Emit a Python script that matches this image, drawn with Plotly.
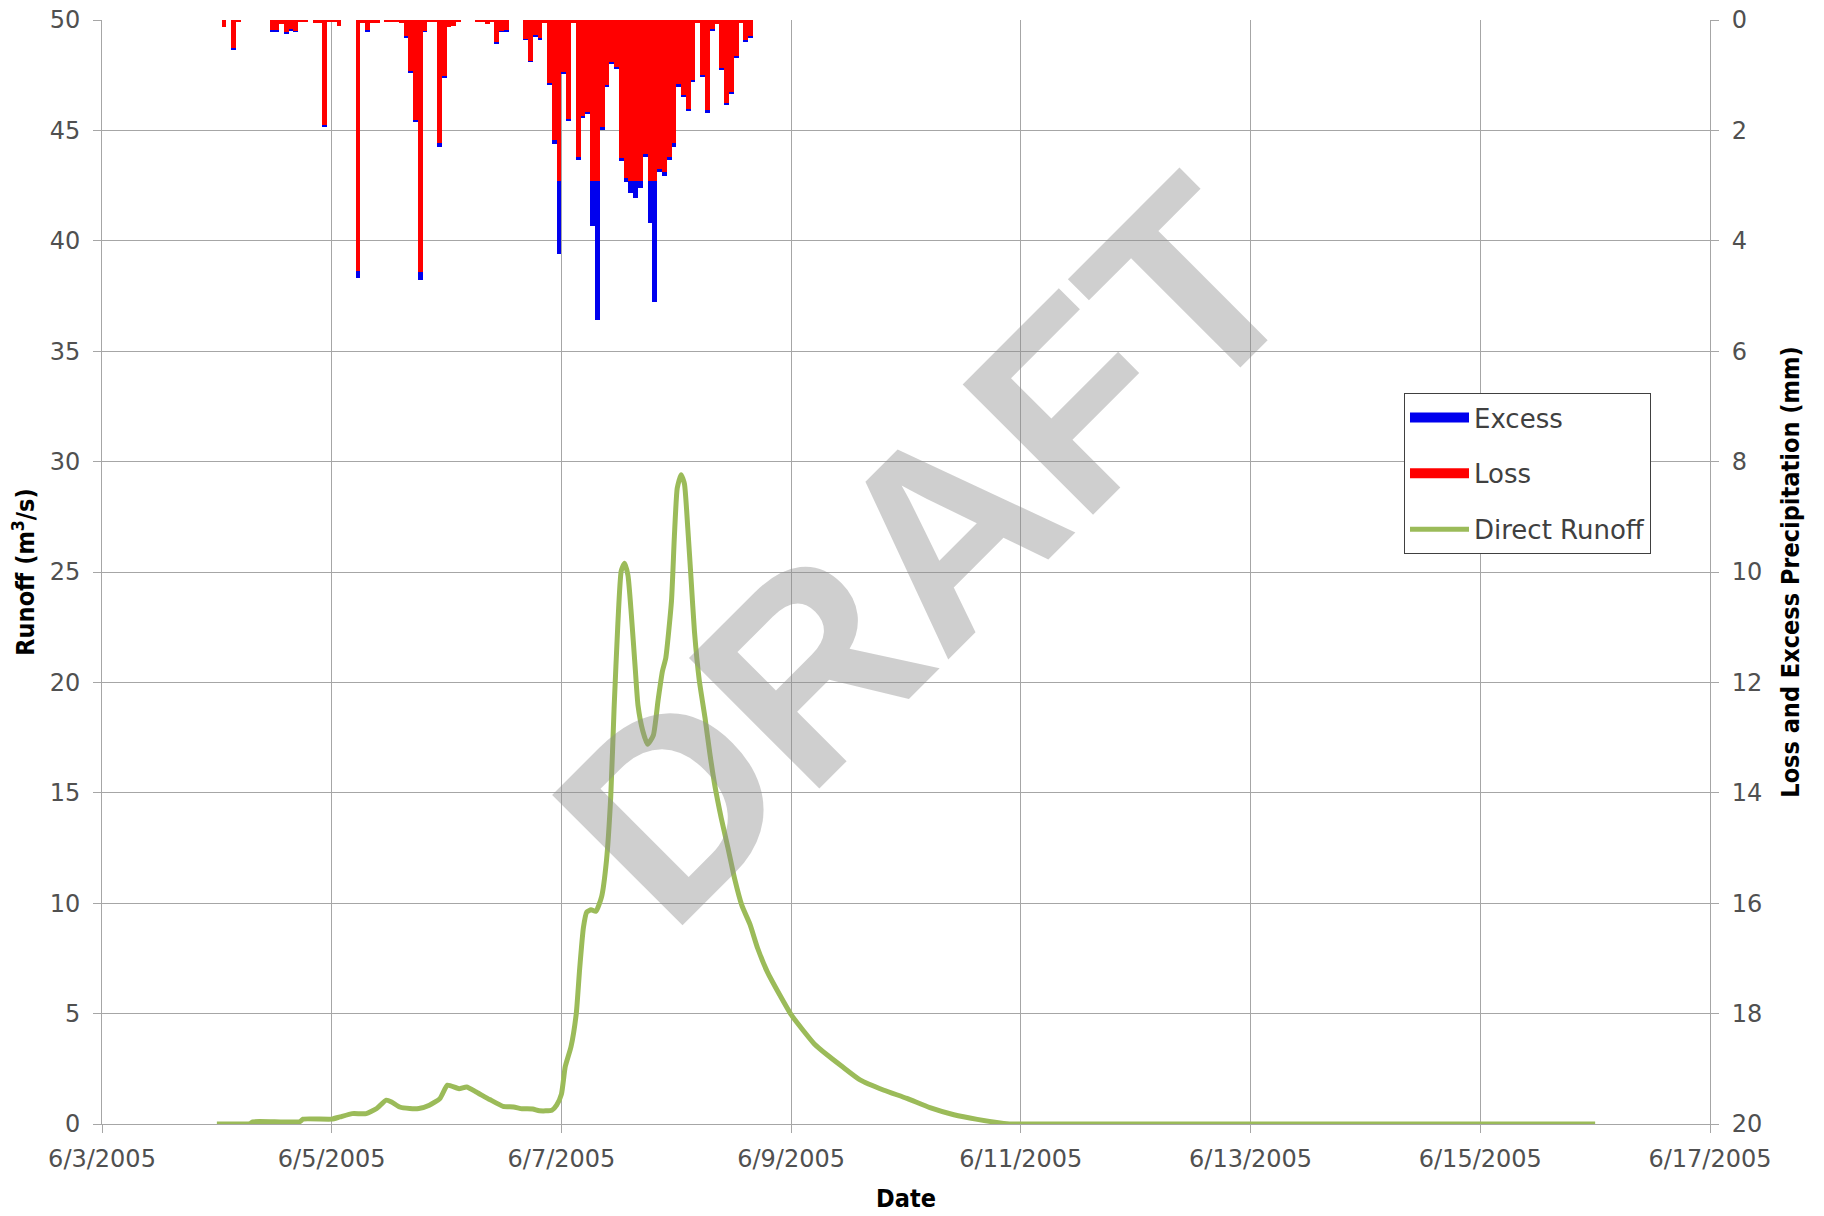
import pandas as pd
import plotly.graph_objects as go

# ---------------- data ----------------
start = pd.Timestamp("2005-06-04 00:00")

# hourly precipitation bars (hour index from 6/4/2005 00:00), mm
bar_hour = [1, 3, 4, 11, 12, 13, 14, 15, 16, 17, 18, 20, 21, 22, 23, 24, 25,
            29, 30, 31, 32, 33, 35, 36, 37, 38, 39, 40, 41, 42, 43, 44, 45, 46,
            47, 48, 49, 50, 54, 55, 56, 57, 58, 59, 60, 64, 65, 66, 67, 68, 69,
            70, 71, 72, 73, 74, 75, 76, 77, 78, 79, 80, 81, 82, 83, 84, 85, 86,
            87, 88, 89, 90, 91, 92, 93, 94, 95, 96, 97, 98, 99, 100, 101, 102,
            103, 104, 105, 106, 107, 108, 109, 110, 111]
bar_loss = [0.12, 0.515, 0.03, 0.185, 0.185, 0.08, 0.23, 0.18, 0.20, 0.03, 0.03,
            0.06, 0.06, 1.905, 0.03, 0.02, 0.10,
            4.55, 0.05, 0.185, 0.05, 0.05, 0.03, 0.03, 0.03, 0.06, 0.305, 0.93,
            1.815, 4.57, 0.20, 0.03, 0.03, 2.235,
            1.02, 0.135, 0.10, 0.03, 0.03, 0.04, 0.07, 0.04, 0.415, 0.205, 0.19,
            0.345, 0.745, 0.28, 0.34, 0.06, 1.155,
            2.175, 2.92, 0.95, 1.79, 0.06, 2.475, 1.74, 1.66, 2.915, 2.92, 1.935,
            1.19, 0.77, 0.86, 2.50, 2.87, 2.92,
            2.91, 2.91, 2.425, 2.915, 2.92, 2.70, 2.76, 2.475, 2.235, 1.175,
            1.365, 1.605, 1.10, 0.06, 1.00, 1.645,
            0.18, 0.08, 0.88, 1.51, 1.315, 0.665, 0.06, 0.37, 0.305]
bar_excess = [0, 0.015, 0, 0.015, 0.015, 0, 0.015, 0.01, 0.015, 0, 0,
              0, 0, 0.035, 0, 0, 0,
              0.13, 0, 0.015, 0, 0, 0, 0, 0, 0, 0.015, 0.02,
              0.03, 0.14, 0.015, 0, 0, 0.065,
              0.02, 0, 0, 0, 0, 0, 0, 0, 0.015, 0.01, 0.01,
              0.01, 0.015, 0.01, 0.015, 0, 0.025,
              0.065, 1.32, 0.02, 0.04, 0, 0.065, 0.03, 0.05, 0.82, 2.52, 0.065,
              0.02, 0.02, 0.02, 0.06, 0.06, 0.21,
              0.31, 0.14, 0.065, 0.755, 2.19, 0.06, 0.06, 0.065, 0.065, 0.035,
              0.035, 0.04, 0.02, 0, 0.02, 0.035,
              0.015, 0, 0.02, 0.035, 0.025, 0.02, 0, 0.015, 0.015]

# direct runoff hydrograph (hours from 6/4/2005 00:00), m3/s
q_hour = [0, 7, 7.5, 17.3, 18, 24, 25.7, 28.3, 31.2, 33.4, 35.4, 36.5, 38.2,
          40.3, 42.2, 44.4, 46.6, 48.2, 50.6, 52.2, 54.2, 57, 59.8, 62, 63.8,
          66, 67.4, 70, 71, 72, 72.8, 74, 75.1, 75.8, 76.6, 77.3, 78.2, 79.2,
          80.4, 81.4, 82.3, 83, 83.8, 84.5, 85.2, 85.9, 86.6, 87.4, 88, 89, 90,
          91.2, 92.2, 93.1, 93.8, 95, 95.6, 96.2, 97, 97.7, 98.4, 99.1, 99.8,
          100.8, 102, 103, 104, 105.4, 106.8, 108.2, 109.7, 111.4, 113, 115,
          117.6, 120, 122.4, 124.8, 127.7, 130.8, 134.4, 139.4, 144.2, 149,
          154, 158.9, 163.7, 166, 288]
q_val = [0.0, 0.02, 0.1, 0.1, 0.22, 0.22, 0.32, 0.47, 0.47, 0.7, 1.08, 1.0, 0.77,
         0.7, 0.7, 0.85, 1.15, 1.76, 1.6, 1.68, 1.45, 1.11, 0.8, 0.77, 0.69,
         0.68, 0.6, 0.62, 0.85, 1.35, 2.6, 3.5, 5.0, 7.0, 8.9, 9.6, 9.7, 9.63,
         10.3, 11.9, 14.8, 18.8, 22.7, 25.05, 25.4, 24.85, 23.1, 20.7, 18.96,
         17.8, 17.2, 17.6, 19.2, 20.5, 21.1, 23.7, 26.6, 28.8, 29.4, 29.0,
         27.0, 24.65, 22.3, 20.1, 18.4, 16.8, 15.4, 13.85, 12.5, 11.1, 9.9,
         9.04, 7.96, 6.9, 5.85, 4.95, 4.27, 3.64, 3.1, 2.58, 2.0, 1.53, 1.16,
         0.74, 0.42, 0.21, 0.05, 0.0, 0.0]

x_ticks = ["2005-06-03", "2005-06-05", "2005-06-07", "2005-06-09",
           "2005-06-11", "2005-06-13", "2005-06-15", "2005-06-17"]
x_ticklabels = ["6/3/2005", "6/5/2005", "6/7/2005", "6/9/2005",
                "6/11/2005", "6/13/2005", "6/15/2005", "6/17/2005"]

# ---------------- figure ----------------
bar_x = [start + pd.Timedelta(hours=h + 0.5) for h in bar_hour]
q_x = [start + pd.Timedelta(hours=h) for h in q_hour]

TICKFONT = dict(family="DejaVu Sans", size=24, color="#505050")
TITLEFONT = dict(family="DejaVu Sans Condensed", size=25, color="#000000", weight="bold")
GRID = "#A6A6A6"
RED = "#FF0000"
BLUE = "#0000EE"
GREEN = "#9BBB59"

fig = go.Figure()

fig.add_trace(go.Bar(x=bar_x, y=bar_loss, yaxis="y2", width=3600000,
                     marker=dict(color=RED, line=dict(width=0)),
                     name="Loss", showlegend=False))
fig.add_trace(go.Bar(x=bar_x, y=bar_excess, yaxis="y2", width=3600000,
                     marker=dict(color=BLUE, line=dict(width=0)),
                     name="Excess", showlegend=False))
fig.add_trace(go.Scatter(x=q_x, y=q_val, mode="lines", name="Direct Runoff",
                         line=dict(color=GREEN, width=5, shape="spline", smoothing=0.5),
                         showlegend=False))

# legend proxies
fig.add_trace(go.Scatter(x=[None], y=[None], mode="lines", name="Excess",
                         line=dict(color=BLUE, width=12), legendgroup="a"))
fig.add_trace(go.Scatter(x=[None], y=[None], mode="lines", name="Loss",
                         line=dict(color=RED, width=12), legendgroup="b"))
fig.add_trace(go.Scatter(x=[None], y=[None], mode="lines", name="Direct Runoff",
                         line=dict(color=GREEN, width=5), legendgroup="c"))

fig.update_layout(
    width=1824, height=1216,
    margin=dict(l=102, r=114, t=20, b=92, autoexpand=False),
    paper_bgcolor="white", plot_bgcolor="white",
    barmode="stack", bargap=0,
    font=TICKFONT,
    xaxis=dict(
        type="date",
        range=["2005-06-03", "2005-06-17"],
        tickvals=x_ticks, ticktext=x_ticklabels,
        showgrid=True, gridcolor=GRID, gridwidth=1,
        showline=True, linecolor=GRID, linewidth=1,
        ticks="outside", ticklen=8, tickcolor=GRID,
        tickfont=TICKFONT, automargin=False, ticklabelstandoff=5,
        ticklabeloverflow="allow",
        title=dict(text="Date", font=TITLEFONT, standoff=17),
        zeroline=False,
    ),
    yaxis=dict(
        range=[0, 50], dtick=5,
        showgrid=True, gridcolor=GRID, gridwidth=1,
        showline=True, linecolor=GRID, linewidth=1,
        ticks="outside", ticklen=8, tickcolor=GRID,
        tickfont=TICKFONT, automargin=False, ticklabelstandoff=8,
        ticklabeloverflow="allow",
        title=dict(text="Runoff (m<sup>3</sup>/s)", font=TITLEFONT, standoff=7),
        zeroline=False,
    ),
    yaxis2=dict(
        range=[20, 0], dtick=2, overlaying="y", side="right",
        showgrid=False,
        showline=True, linecolor=GRID, linewidth=1,
        ticks="outside", ticklen=8, tickcolor=GRID,
        tickfont=TICKFONT, automargin=False, ticklabelstandoff=8,
        ticklabeloverflow="allow",
        title=dict(text="Loss and Excess Precipitation (mm)", font=TITLEFONT, standoff=20),
        zeroline=False,
    ),
    legend=dict(
        x=0.8097, y=0.662, xanchor="left", yanchor="top",
        bgcolor="white", bordercolor="#404040", borderwidth=1,
        font=dict(family="DejaVu Sans", size=26, color="#404040"),
        traceorder="grouped", tracegroupgap=19,
        itemwidth=59,
    ),
    annotations=[dict(
        text="<b>DRAFT</b>", x=0.512, y=0.519, xref="paper", yref="paper",
        showarrow=False, textangle=-45,
        font=dict(family="Liberation Sans", size=268, color="rgba(140,140,140,0.42)"),
    )],
)

fig.write_html("out.html",
               config={"displayModeBar": False},
               post_script="document.body.style.margin='0';document.body.style.overflow='hidden';")
